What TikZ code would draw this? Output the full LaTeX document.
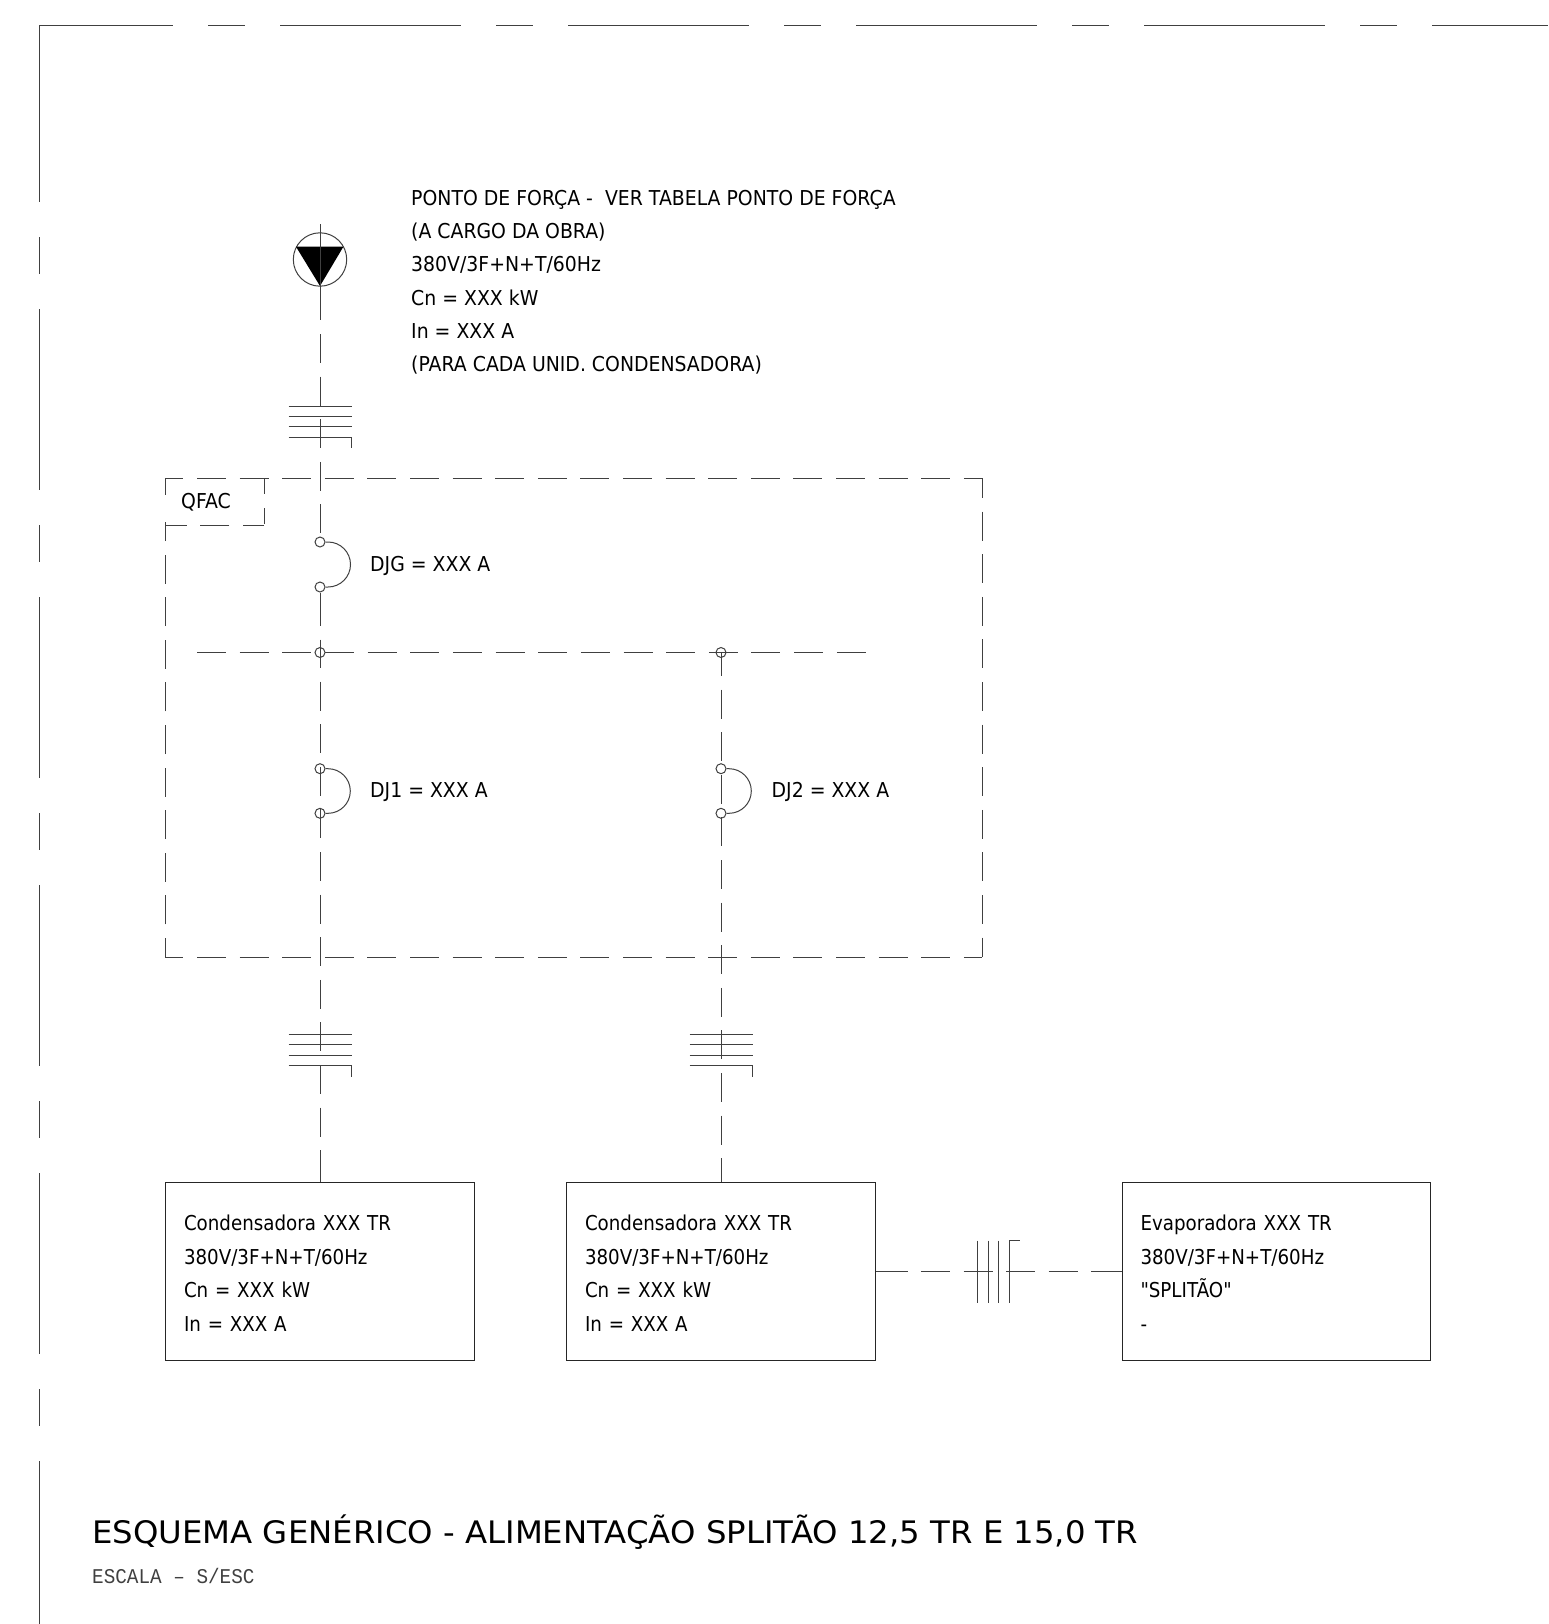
\documentclass[tikz,border=0pt]{standalone}
\usepackage{fontspec}
\setmainfont[FakeStretch=0.92]{DejaVu Sans}
\newfontfamily\equipfont[FakeStretch=0.89]{DejaVu Sans}
\newfontfamily\titulofont[FakeStretch=1.043]{DejaVu Sans}
\newfontfamily\cadfont[FakeStretch=0.92]{Liberation Mono}
\tikzset{
    traco/.style={draw=black!75, line width=1pt},
    wire/.style={traco, dash pattern=on 29pt off 13.6pt},
    moldura/.style={traco, dash pattern=on 181pt off 35pt on 37pt off 35pt},
    terminal/.style={traco, circle, inner sep=0pt, minimum size=10pt},
    rotulo/.style={inner sep=0pt, anchor=base west, font=\fontsize{20.5}{33.2}\selectfont},
    equip/.style={draw=black!85, line width=1.3pt, minimum width=308.5pt, minimum height=178.5pt,
        text width=272pt, inner xsep=18.25pt, inner ysep=0pt, align=left,
        font=\equipfont\fontsize{20.5}{33.5}\selectfont, execute at begin node=\rule{0pt}{19pt}}
}
\begin{document}
\begin{tikzpicture}[x=1pt,y=-1pt]
    \useasboundingbox (0,0) rectangle (1548,1624);
    % moldura
    \coordinate (mcanto) at (39,26);
    \coordinate (mdir) at (1548,26);
    \coordinate (mbaixo) at (39,1624);
    \draw[moldura, dash phase=47pt] (mcanto) -- (mdir);
    \draw[moldura, dash phase=5pt] (mcanto) -- (mbaixo);

    % ponto de forca
    \node[terminal, minimum size=53.4pt] (fonte) at (320,259.5) {};
    \fill[black] (296,246.7) -- (343.4,246.7) -- (320,286) -- cycle;
    \coordinate (ftopo) at (320,224);
    \coordinate (ffim) at (320,320);
    \coordinate (fseg) at (320,334);
    \node[rotulo, anchor=north west, align=left] (ponto) at (411,190) {PONTO DE FORÇA -\ \ VER TABELA PONTO DE FORÇA\\(A CARGO DA OBRA)\\380V/3F+N+T/60Hz\\Cn = XXX kW\\In = XXX A\\(PARA CADA UNID. CONDENSADORA)};

    % quadro
    \coordinate (pnw) at (165,478);
    \coordinate (pne) at (982,478);
    \coordinate (pse) at (982,957);
    \coordinate (psw) at (165,957);
    \coordinate (pesq) at (165,495);
    \coordinate (qne) at (264,478);
    \coordinate (qse) at (264,525);
    \coordinate (qsw) at (165,522);
    \draw[wire, dash phase=10.6pt] (pnw) -- (pne);
    \draw[wire, dash phase=9pt] (pne) -- (pse);
    \draw[wire, dash phase=10.6pt] (psw) -- (pse);
    \draw[wire, dash phase=10pt] (psw) -- (qsw);
    \draw[traco] (pnw) -- (pesq);
    \draw[traco, dash pattern=on 16pt off 14pt] (qne) -- (qse);
    \draw[traco, dash pattern=on 21pt off 13.6pt on 29pt off 13.6pt] (qse) -- (165,525);
    \node[rotulo] (qfac) at (181,508) {QFAC};

    % disjuntores
    \node[terminal] (djga) at (320,542) {};
    \node[terminal] (djgb) at (320,587) {};
    \node[terminal] (dj1a) at (320,768.7) {};
    \node[terminal] (dj1b) at (320,813.3) {};
    \node[terminal] (dj2a) at (721,768.7) {};
    \node[terminal] (dj2b) at (721,813.3) {};
    \draw[traco] (djga.east) -- ++(2.5,0) arc[start angle=90, end angle=-90, radius=22.5pt] -- (djgb.east);
    \draw[traco] (dj1a.east) -- ++(2.5,0) arc[start angle=90, end angle=-90, radius=22.3pt] -- (dj1b.east);
    \draw[traco] (dj2a.east) -- ++(2.5,0) arc[start angle=90, end angle=-90, radius=22.3pt] -- (dj2b.east);
    \node[rotulo] (ldjg) at (370,571) {DJG = XXX A};
    \node[rotulo] (ldj1) at (370,797) {DJ1 = XXX A};
    \node[rotulo] (ldj2) at (771.5,797) {DJ2 = XXX A};

    % barramento
    \coordinate (busl) at (197,652.5);
    \coordinate (busr) at (867,652.5);
    \node[terminal] (busa) at (320,652.5) {};
    \node[terminal] (busb) at (721,652.5) {};
    \draw[traco, dash pattern=on 29pt off 13.65pt] (busl) -- (busr);

    % equipamentos
    \node[equip] (cond1) at (320,1271.5) {Condensadora XXX TR\\380V/3F+N+T/60Hz\\Cn = XXX kW\\In = XXX A};
    \node[equip] (cond2) at (721,1271.5) {Condensadora XXX TR\\380V/3F+N+T/60Hz\\Cn = XXX kW\\In = XXX A};
    \node[equip] (evap) at (1276.5,1271.5) {Evaporadora XXX TR\\380V/3F+N+T/60Hz\\"SPLITÃO"\\-};

    % alimentadores
    \coordinate (c1fim) at (320,1150);
    \draw[traco] (ftopo) -- (ffim);
    \draw[wire] (fseg) -- (djga.north);
    \draw[traco, dash pattern=on 33pt off 14pt on 29pt off 13.6pt] (djgb.south) -- (busa.center);
    \draw[wire, dash phase=13.5pt] (busa.center) -- (c1fim);
    \draw[traco] (c1fim) -- (cond1.north);
    \draw[wire, dash phase=5.5pt] (busb.center) -- (cond2.north);
    \draw[traco, dash pattern=on 32pt off 13pt on 29pt off 13.6pt on 29pt off 13.6pt on 29pt off 13.6pt on 29pt off 13.6pt on 31pt off 13pt] (cond2.east) -- (evap.west);

    % marcas de cabo
    \foreach \cx/\cy in {320/406, 320/1034.3, 721/1034.3} {
        \foreach \dy in {0,10.4,20.8,31.2}
            \draw[traco] (\cx-31.5,\cy+\dy) -- (\cx+31.5,\cy+\dy);
        \draw[traco] (\cx+31.5,\cy+31.2) -- (\cx+31.5,\cy+42.4);
    }
    \foreach \cx in {977.3,988,998.7,1009.3}
        \draw[traco] (\cx,1240.7) -- (\cx,1302.7);
    \draw[traco] (1009.3,1240.7) -- (1020,1240.7);

    % titulo
    \node[rotulo, font=\titulofont\fontsize{31}{36}\selectfont] (titulo) at (92,1543) {ESQUEMA GENÉRICO - ALIMENTAÇÃO SPLITÃO 12,5 TR E 15,0 TR};
    \node[rotulo, font=\cadfont\fontsize{21}{24}\selectfont, text=black!75] (escala) at (92,1583) {ESCALA – S/ESC};
\end{tikzpicture}
\end{document}
